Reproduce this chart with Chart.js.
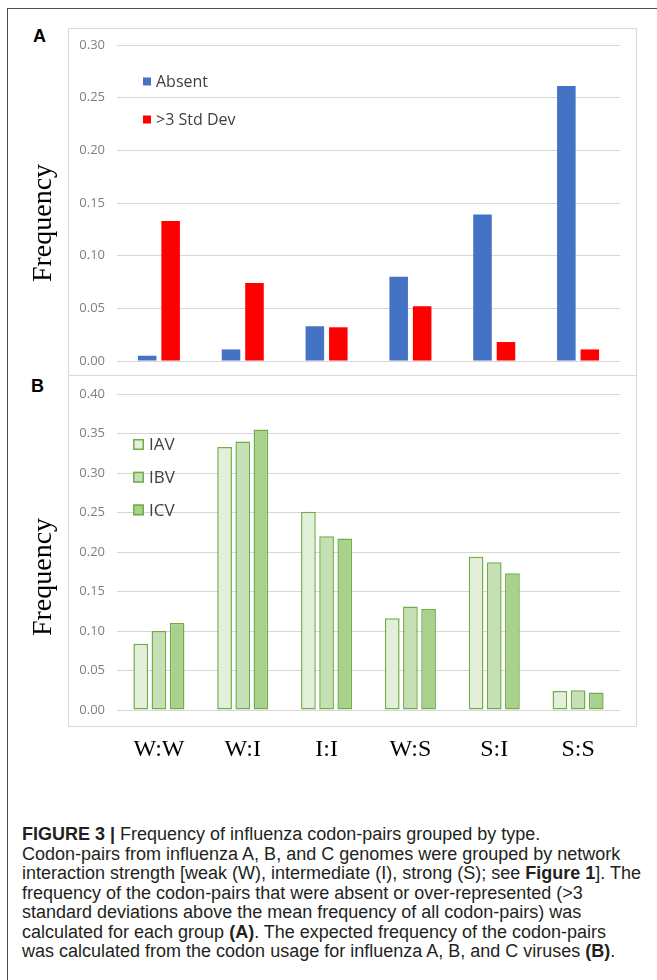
<!DOCTYPE html>
<html>
<head>
<meta charset="utf-8">
<script src="https://cdn.jsdelivr.net/npm/chart.js@4.4.0/dist/chart.umd.min.js"></script>
<style>
  body { margin: 0; background: #fff; width: 657px; height: 980px; position: relative; overflow: hidden; }
  .frame { position: absolute; left: 7px; top: 8px; width: 800px; height: 1100px; border-left: 1.5px solid #4d4d4d; border-top: 1.5px solid #4d4d4d; }
  .box { position: absolute; border: 1px solid #d9d9d9; }
  #boxA { left: 68px; top: 28px; width: 567px; height: 346px; }
  #boxB { left: 68px; top: 375px; width: 567px; height: 350px; }
  .panel-label { position: absolute; font: bold 18px "Liberation Sans", Arial, sans-serif; line-height: 18px; color: #000; }
  .wrap { position: absolute; left: 10px; }
  .caption { position: absolute; left: 22px; top: 825px; font: 18px "Liberation Sans", Arial, sans-serif; line-height: 19.5px; color: #231f20; white-space: nowrap; }
</style>
</head>
<body>
<div class="frame"></div>
<div class="box" id="boxA"></div>
<div class="box" id="boxB"></div>
<div class="panel-label" style="left:33px; top:27px;">A</div>
<div class="panel-label" style="left:31px; top:377px;">B</div>
<div class="wrap" style="top:28px;"><canvas id="chartA" width="626" height="347"></canvas></div>
<div class="wrap" style="top:375px;"><canvas id="chartB" width="626" height="395"></canvas></div>
<div class="caption">
<b>FIGURE 3 |</b> Frequency of influenza codon-pairs grouped by type.<br>
Codon-pairs from influenza A, B, and C genomes were grouped by network<br>
interaction strength [weak (W), intermediate (I), strong (S); see <b>Figure 1</b>]. The<br>
frequency of the codon-pairs that were absent or over-represented (&gt;3<br>
standard deviations above the mean frequency of all codon-pairs) was<br>
calculated for each group <b>(A)</b>. The expected frequency of the codon-pairs<br>
was calculated from the codon usage for influenza A, B, and C viruses <b>(B)</b>.
</div>
<script>
// codon-pair groups
const categories = ["W:W", "W:I", "I:I", "W:S", "S:I", "S:S"];

// panel A
const absent = [0.005, 0.011, 0.033, 0.080, 0.139, 0.261];
const overStdDev = [0.133, 0.074, 0.032, 0.052, 0.018, 0.011];
const yMaxA = 0.30;

// panel B
const iav = [0.084, 0.333, 0.251, 0.116, 0.194, 0.024];
const ibv = [0.100, 0.340, 0.220, 0.131, 0.187, 0.025];
const icv = [0.110, 0.355, 0.217, 0.128, 0.173, 0.022];
const yMaxB = 0.40;
const yStep = 0.05;

Chart.defaults.font.family = "'Open Sans', sans-serif";

// legend drawn inside the plot, top left
const insideLegend = {
  id: "insideLegend",
  afterDraw(chart, args, opts) {
    const ctx = chart.ctx;
    const area = chart.chartArea;
    ctx.save();
    ctx.font = opts.font;
    ctx.textBaseline = "middle";
    chart.data.datasets.forEach((ds, i) => {
      const x = area.left + opts.left;
      const y = area.top + opts.top + i * opts.spacing;
      ctx.fillStyle = ds.backgroundColor;
      ctx.fillRect(x, y - opts.box / 2, opts.box, opts.box);
      if (ds.borderWidth) {
        ctx.strokeStyle = ds.borderColor;
        ctx.lineWidth = 1.5;
        ctx.strokeRect(x + 0.75, y - opts.box / 2 + 0.75, opts.box - 1.5, opts.box - 1.5);
      }
      ctx.fillStyle = opts.color;
      ctx.fillText(ds.label, x + opts.textLeft, y + 1);
    });
    ctx.restore();
  }
};

// rotated axis title, a bit below the middle like the Excel original
const sideTitle = {
  id: "sideTitle",
  afterDraw(chart, args, opts) {
    const ctx = chart.ctx;
    const area = chart.chartArea;
    ctx.save();
    ctx.translate(opts.x, (area.top + area.bottom) / 2 + opts.dy);
    ctx.rotate(-Math.PI / 2);
    ctx.font = opts.font;
    ctx.fillStyle = "#000";
    ctx.textAlign = "center";
    ctx.textBaseline = "alphabetic";
    ctx.fillText(opts.text, 0, 0);
    ctx.restore();
  }
};

function yScale(max) {
  return {
    min: 0,
    max: max,
    afterFit: (s) => {
      s.width = 107;
      s.paddingTop = 0;
      s.paddingBottom = 0;
    },
    border: { display: false },
    grid: { color: "#d6d6d6", lineWidth: 1, drawTicks: false },
    ticks: {
      stepSize: yStep,
      padding: 12,
      color: "#7f7f7f",
      font: { size: 13 },
      callback: (v) => v.toFixed(2)
    }
  };
}

new Chart(document.getElementById("chartA"), {
  type: "bar",
  data: {
    labels: categories,
    datasets: [
      { label: "Absent", data: absent, backgroundColor: "#4472c4", categoryPercentage: 0.56, barPercentage: 0.79 },
      { label: ">3 Std Dev", data: overStdDev, backgroundColor: "#ff0000", categoryPercentage: 0.56, barPercentage: 0.79 }
    ]
  },
  options: {
    responsive: false,
    animation: false,
    layout: { padding: { left: 0, right: 16, top: 17, bottom: 14 } },
    scales: {
      x: { display: false },
      y: yScale(yMaxA)
    },
    plugins: {
      legend: { display: false },
      tooltip: { enabled: false },
      insideLegend: { left: 26, top: 36.5, spacing: 38, box: 8, textLeft: 13, font: "16px 'Open Sans', sans-serif", color: "#404040" },
      sideTitle: { text: "Frequency", x: 41, dy: 20, font: "28px 'Liberation Serif', 'Times New Roman', serif" }
    }
  },
  plugins: [insideLegend, sideTitle]
});

const greenBorder = "#70ad47";

new Chart(document.getElementById("chartB"), {
  type: "bar",
  data: {
    labels: categories,
    datasets: [
      { label: "IAV", data: iav, backgroundColor: "#e2f0d9", borderColor: greenBorder, borderWidth: 1.5, borderSkipped: false, categoryPercentage: 0.65, barPercentage: 0.81 },
      { label: "IBV", data: ibv, backgroundColor: "#c5e0b4", borderColor: greenBorder, borderWidth: 1.5, borderSkipped: false, categoryPercentage: 0.65, barPercentage: 0.81 },
      { label: "ICV", data: icv, backgroundColor: "#a9d18e", borderColor: greenBorder, borderWidth: 1.5, borderSkipped: false, categoryPercentage: 0.65, barPercentage: 0.81 }
    ]
  },
  options: {
    responsive: false,
    animation: false,
    layout: { padding: { left: 0, right: 16, top: 19, bottom: 10 } },
    scales: {
      x: {
        afterFit: (s) => { s.height = 50; },
        border: { display: false },
        grid: { display: false, drawTicks: false },
        ticks: {
          padding: 25,
          color: "#000",
          font: { family: "'Liberation Serif', 'Times New Roman', serif", size: 24 }
        }
      },
      y: yScale(yMaxB)
    },
    plugins: {
      legend: { display: false },
      tooltip: { enabled: false },
      insideLegend: { left: 16, top: 50.5, spacing: 32.7, box: 11, textLeft: 16, font: "17px 'Open Sans', sans-serif", color: "#404040" },
      sideTitle: { text: "Frequency", x: 41, dy: 25, font: "28px 'Liberation Serif', 'Times New Roman', serif" }
    }
  },
  plugins: [insideLegend, sideTitle]
});
</script>
</body>
</html>
